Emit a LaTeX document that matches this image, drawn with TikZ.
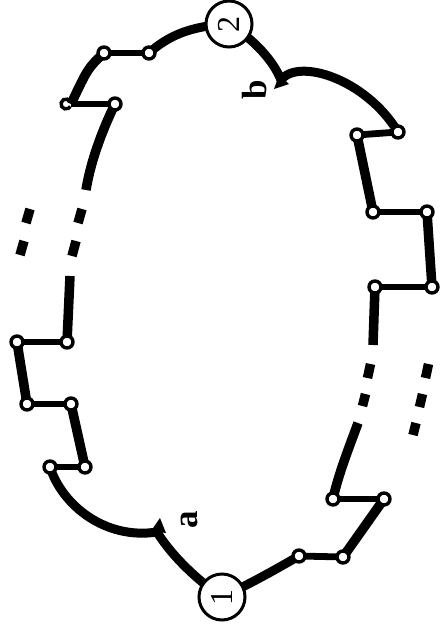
\documentclass[tikz,border=0pt]{standalone}
\usepackage{fontspec}
\setmainfont{Liberation Serif}
\pgfdeclarelayer{background}
\pgfsetlayers{background,main}
\begin{document}
\begin{tikzpicture}[x=1pt,y=-1pt,
  dot/.style={circle,draw,fill=white,line width=3.4pt,inner sep=0pt,minimum size=12pt},
  big/.style={circle,draw,fill=white,line width=3pt,inner sep=0pt,minimum size=46pt,
              font=\fontsize{32}{32}\selectfont,rotate=90},
  chain/.style={line width=9.5pt},
  link/.style={line width=6.8pt},
  arcl/.style={line width=9pt},
  dashbar/.style={line width=9.5pt},
  hook/.style={line width=3.4pt},
  lab/.style={font=\fontsize{35}{35}\selectfont\bfseries,rotate=90,inner sep=0pt}]
\useasboundingbox (0,0) rectangle (441,632);
% big nodes
\node[big] (c2) at (229,24) {2};
\node[big] (c1) at (222,597) {1};
% left chain
\node[dot] (n1) at (149,53) {};
\node[dot] (n2) at (104,53) {};
\coordinate (h1) at (71,104);
\node[dot] (n3) at (115,104) {};
\node[dot] (n4) at (67,342) {};
\node[dot] (n5) at (17,342) {};
\node[dot] (n6) at (27,404) {};
\node[dot] (n7) at (71,404) {};
\node[dot] (n8) at (85,467) {};
\node[dot] (n9) at (50,467) {};
% right chain
\node[dot] (m1) at (398,132) {};
\node[dot] (m2) at (357,135) {};
\node[dot] (m3) at (373,212) {};
\node[dot] (m4) at (427,212) {};
\node[dot] (m5) at (432,287) {};
\node[dot] (m6) at (375,287) {};
\node[dot] (m7) at (333,499) {};
\node[dot] (m8) at (384,499) {};
\node[dot] (m9) at (343,557) {};
\node[dot] (m10) at (299,556) {};
% junctions and free ends
\coordinate (A) at (157,532);
\coordinate (B) at (281,80);
\coordinate (ls1) at (86,190);
\coordinate (ls2) at (70,276);
\coordinate (rs1) at (373,345);
\coordinate (rs2) at (358,423);
% labels
\node[lab] (la) at (189,520) {a};
\node[lab] (lb) at (255,90) {b};
\begin{pgfonlayer}{background}
% right side
\draw[arcl] (c2.center) .. controls (255,40) and (274,62) .. (B);
\draw[arcl] (B) .. controls (298,58) and (365,78) .. (m1.center);
\draw[link] (m1.center) -- (m2.center);
\draw[chain] (m2.center) -- (m3.center);
\draw[link] (m3.center) -- (m4.center);
\draw[chain] (m4.center) -- (m5.center);
\draw[link] (m5.center) -- (m6.center);
\draw[chain] (m6.center) -- (rs1);
\draw[dashbar] (370.5,364) -- (367.5,378);
\draw[dashbar] (365.5,394) -- (362.5,406);
\draw[dashbar] (428.5,364) -- (425.5,378);
\draw[dashbar] (422.5,394) -- (419.5,407);
\draw[dashbar] (416,423) -- (413,435);
\draw[chain] (rs2) .. controls (350,445) and (338,475) .. (m7.center);
\draw[link] (m7.center) -- (m8.center);
\draw[chain] (m8.center) -- (m9.center);
\draw[link] (m9.center) -- (m10.center);
\draw[arcl] (m10.center) .. controls (283,565) and (258,580) .. (c1.center);
% left side
\draw[arcl] (c1.center) .. controls (190,575) and (168,550) .. (A);
\draw[arcl] (A) .. controls (105,540) and (62,505) .. (n9.center);
\draw[link] (n9.center) -- (n8.center);
\draw[chain] (n8.center) -- (n7.center);
\draw[link] (n7.center) -- (n6.center);
\draw[chain] (n6.center) -- (n5.center);
\draw[link] (n5.center) -- (n4.center);
\draw[chain] (n4.center) -- (ls2);
\draw[dashbar] (82,209) -- (78,223);
\draw[dashbar] (76,241) -- (72,256);
\draw[dashbar] (30,209) -- (26,223);
\draw[dashbar] (24,241) -- (20,255);
\draw[chain] (ls1) .. controls (90,165) and (100,135) .. (n3.center);
\draw[link] (n3.center) -- (h1);
\draw[chain] (n2.center) .. controls (88,68) .. (h1);
\draw[link] (n2.center) -- (n1.center);
\draw[arcl] (n1.center) .. controls (168,36) and (190,26) .. (c2.center);
% spikes at the junctions
\fill (151,531) -- (160,518) -- (166,533) -- cycle;
\fill (279,75) -- (274,89) -- (289,84) -- cycle;
\end{pgfonlayer}
% hook node
\draw[hook] (70.33,101.5) arc[start angle=-30,end angle=-330,radius=5];
\end{tikzpicture}
\end{document}
